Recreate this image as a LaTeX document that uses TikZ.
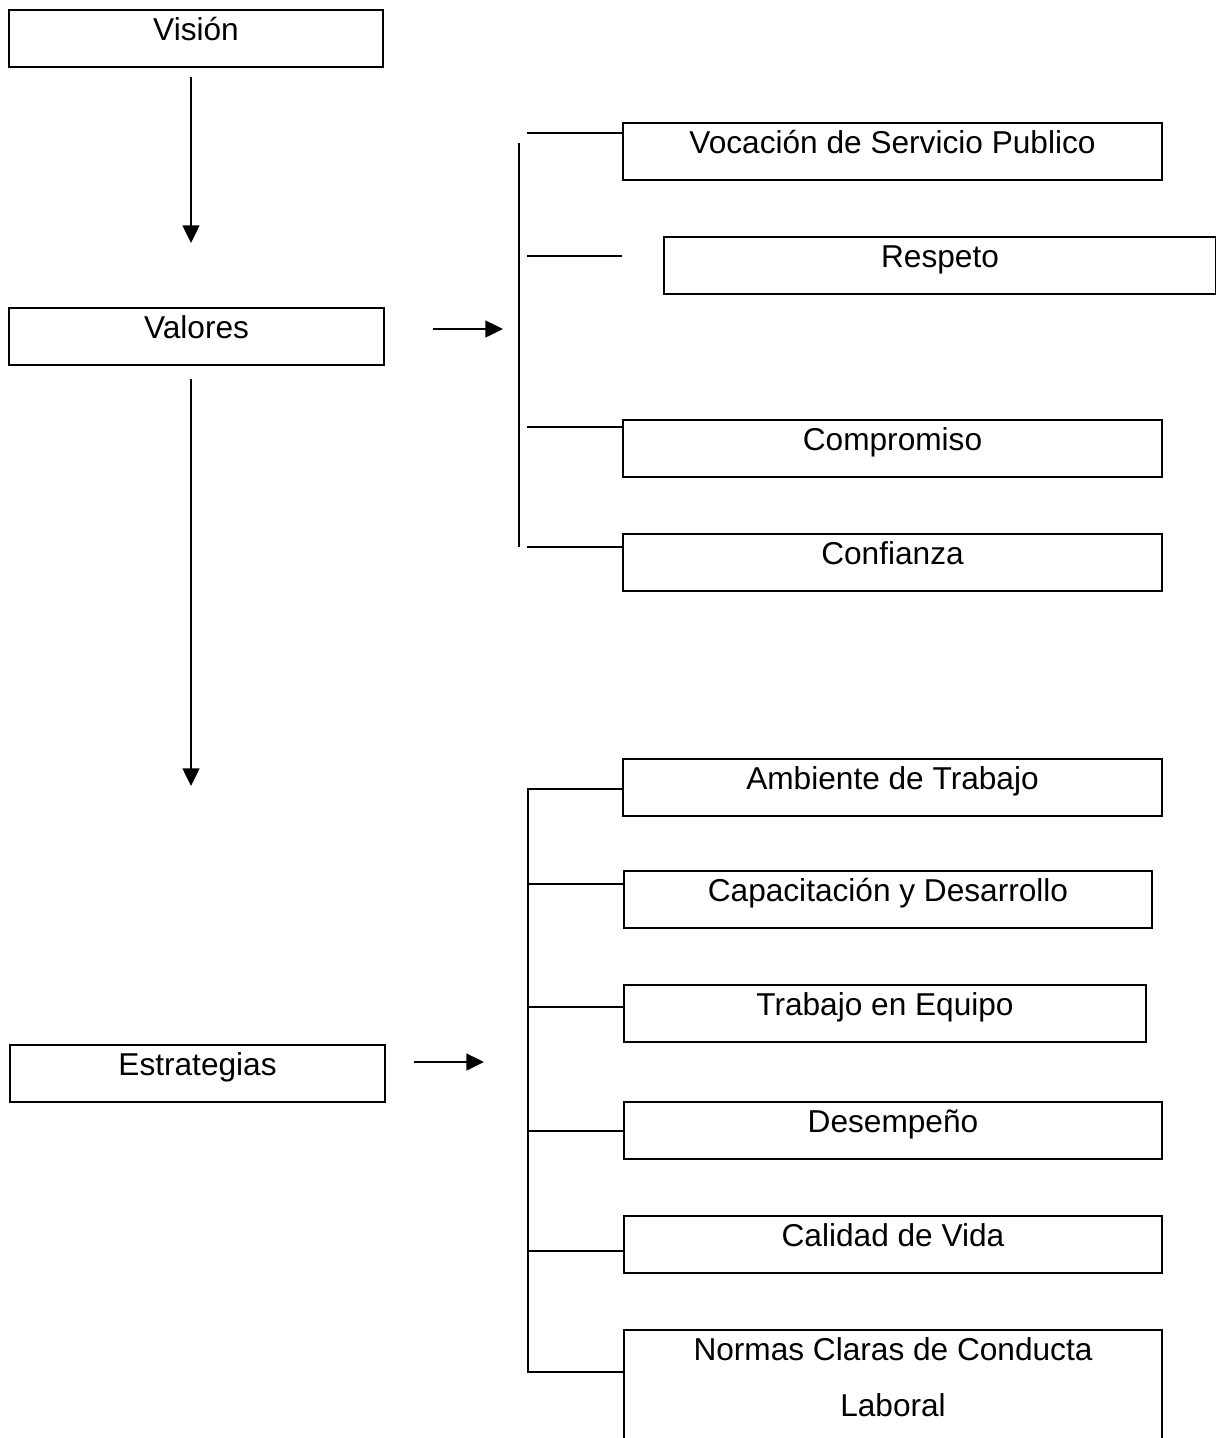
\documentclass[tikz,border=0pt]{standalone}
\usepackage{fontspec}
\setmainfont{Liberation Sans}
\usetikzlibrary{arrows.meta}
\begin{document}
\begin{tikzpicture}[x=0.02cm,y=-0.02cm,
        linea/.style={line width=1.2pt},
        flecha/.style={line width=1.2pt,-{Triangle[length=10pt,width=9.5pt]}}]
    \useasboundingbox (0,0) rectangle (1216,1438);
    \begin{scope}[every node/.style={rectangle,draw,line width=1.2pt,anchor=north west,inner sep=0pt,
            text height=17.2pt,text depth=15.1pt,font=\fontsize{18}{31.8}\selectfont}]
        \node[minimum width=7.48cm] (vision) at (8,9) {Visión};
        \node[minimum width=7.5cm] (valores) at (8,307) {Valores};
        \node[minimum width=7.5cm] (estrategias) at (9,1044) {Estrategias};
        \node[minimum width=10.78cm] (vocacion) at (622,122) {Vocación de Servicio Publico};
        \node[minimum width=11.04cm] (respeto) at (663,236) {Respeto};
        \node[minimum width=10.78cm] (compromiso) at (622,419) {Compromiso};
        \node[minimum width=10.78cm] (confianza) at (622,533) {Confianza};
        \node[minimum width=10.78cm] (ambiente) at (622,758) {Ambiente de Trabajo};
        \node[minimum width=10.56cm] (capacitacion) at (623,870) {Capacitación y Desarrollo};
        \node[minimum width=10.44cm] (trabajo) at (623,984) {Trabajo en Equipo};
        \node[minimum width=10.76cm] (desempeno) at (623,1101) {Desempeño};
        \node[minimum width=10.76cm] (calidad) at (623,1215) {Calidad de Vida};
        \node[minimum width=10.76cm,align=center,text height=49pt,text depth=17pt] (normas) at (623,1329) {Normas Claras de Conducta\\Laboral};
    \end{scope}
    % flechas
    \coordinate (a1) at (191,243);
    \coordinate (a2) at (191,786);
    \coordinate (b1) at (503,329);
    \coordinate (b2) at (484,1062);
    \draw[flecha,shorten <=0.18cm] (vision.south -| a1) -- (a1);
    \draw[flecha,shorten <=0.26cm] (valores.south -| a2) -- (a2);
    \draw[flecha,shorten <=0.96cm] (valores.east |- b1) -- (b1);
    \draw[flecha,shorten <=0.56cm] (estrategias.east |- b2) -- (b2);
    % corchete de valores
    \coordinate (v1) at (519,143);
    \coordinate (v2) at (519,547);
    \coordinate (r1) at (527,256);
    \coordinate (r2) at (622,256);
    \draw[linea] (v1) -- (v2);
    \draw[linea] (r1) -- (r2);
    \foreach \n/\y in {vocacion/133,compromiso/427,confianza/547}
        \draw[linea] (527,\y) -- (\n.west |- 527,\y);
    % corchete de estrategias
    \draw[linea] (ambiente.west |- 528,789) -- (528,789) -- (528,1372) -- (normas.west |- 528,1372);
    \foreach \n/\y in {capacitacion/884,trabajo/1007,desempeno/1131,calidad/1251}
        \draw[linea] (528,\y) -- (\n.west |- 528,\y);
\end{tikzpicture}
\end{document}
